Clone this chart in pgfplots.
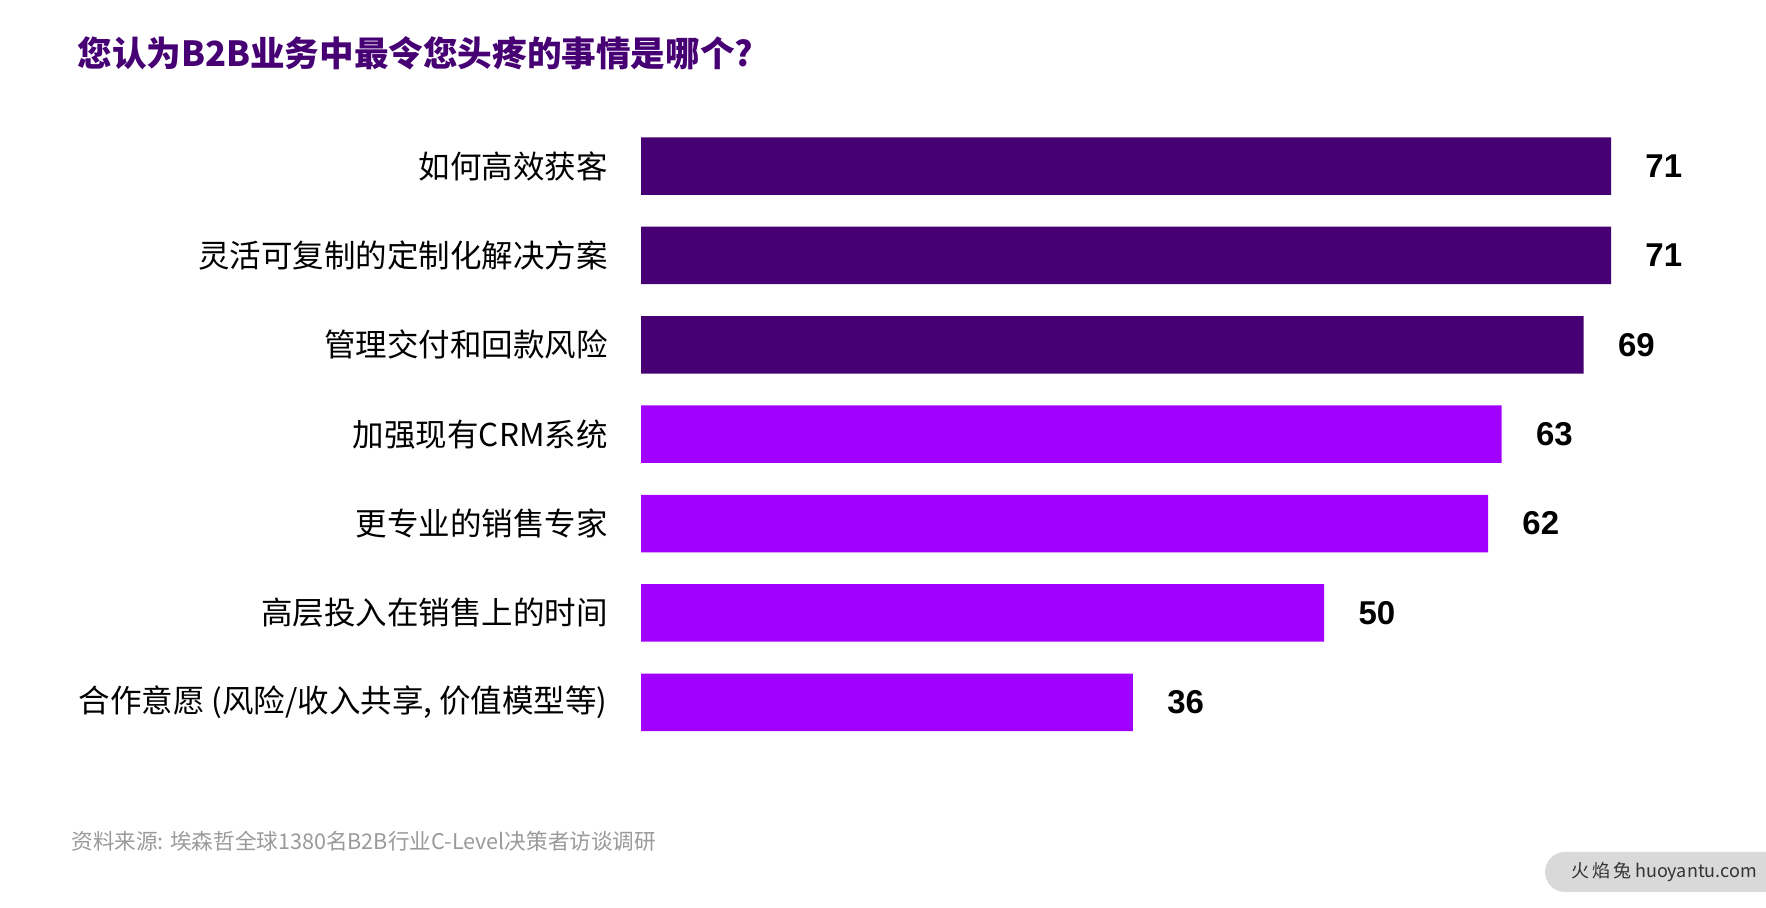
\documentclass[border=0pt]{standalone}
\usepackage{pgfplots}
\pgfplotsset{compat=1.18}
\usepackage{fontspec}
\setmainfont{Noto Sans CJK SC}
\newfontfamily\numfont{Liberation Sans}
\definecolor{darkpurple}{HTML}{460073}
\definecolor{brightpurple}{HTML}{A100FF}
\definecolor{footgray}{HTML}{9A9A9A}
\definecolor{pillgray}{HTML}{D9D9D9}
\begin{document}
\begin{tikzpicture}
\path[use as bounding box, fill=white] (0pt,0pt) rectangle (883pt,454pt);
\node[anchor=west, inner sep=0pt, font=\fontsize{17.3pt}{20pt}\selectfont\bfseries, text=darkpurple]
  at (38.5pt,427.25pt) {您认为B2B业务中最令您头疼的事情是哪个?};
\begin{axis}[
  at={(320.5pt,393.3pt)}, anchor=north west,
  scale only axis, width=546.5pt, height=312.8pt,
  xmin=0, xmax=80, ymin=-0.5, ymax=6.5, y dir=reverse,
  xbar, bar width=28.75pt, bar shift=0pt,
  axis line style={draw=none}, major tick length=0pt,
  xtick=\empty, ytick={0,1,2,3,4,5,6},
  yticklabels={如何高效获客,灵活可复制的定制化解决方案,管理交付和回款风险,加强现有CRM系统,更专业的销售专家,高层投入在销售上的时间,{合作意愿 (风险/收入共享, 价值模型等)}},
  yticklabel style={anchor=east, inner sep=0pt, xshift=-16.5pt, font=\fontsize{15.75pt}{18pt}\selectfont},
  /pgf/number format/assume math mode=true,
  nodes near coords,
  every node near coord/.style={anchor=west, inner sep=0pt, xshift=17pt, font=\numfont\fontsize{16.5pt}{19pt}\selectfont\bfseries, text=black},
  clip=false,
]
\addplot[fill=darkpurple, draw=none] coordinates {(71,0) (71,1) (69,2)};
\addplot[fill=brightpurple, draw=none] coordinates {(63,3) (62,4) (50,5) (36,6)};
\end{axis}
\node[anchor=west, inner sep=0pt, font=\fontsize{10.8pt}{13pt}\selectfont, text=footgray]
  at (35.5pt,33.5pt) {资料来源: 埃森哲全球1380名B2B行业C-Level决策者访谈调研};
\fill[pillgray, rounded corners=10pt] (772.5pt,8pt) rectangle (905pt,28pt);
\node[inner sep=0pt, font=\fontsize{9pt}{11pt}\selectfont, text=black!80] at (832pt,18pt) {火\,焰\,兔 huoyantu.com};
\end{tikzpicture}
\end{document}
